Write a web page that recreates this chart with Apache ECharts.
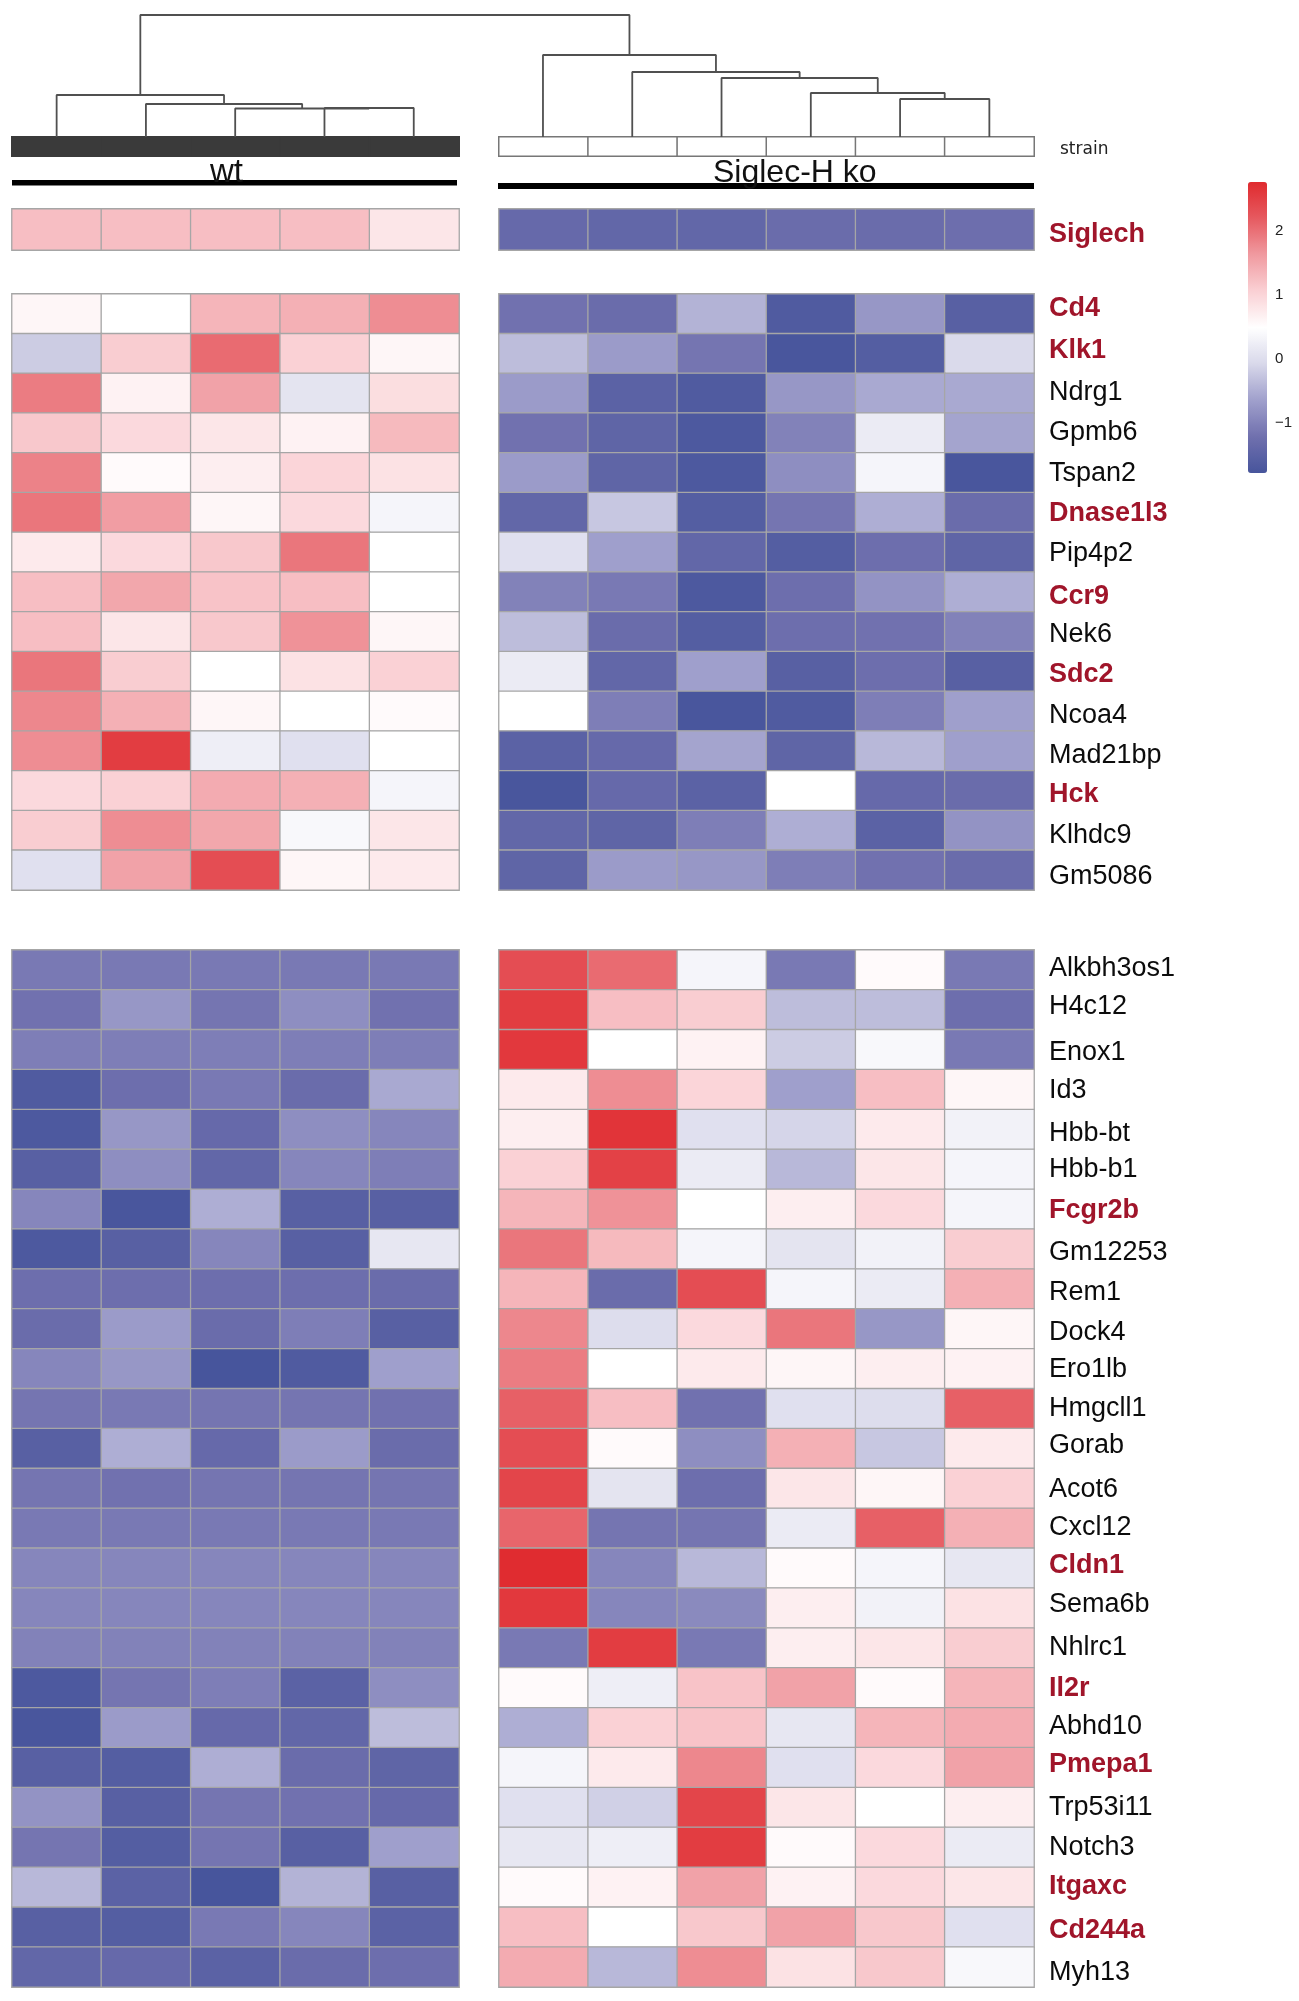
<!DOCTYPE html>
<html>
<head>
<meta charset="utf-8">
<script src="https://cdn.jsdelivr.net/npm/echarts@6/dist/echarts.min.js"></script>
<style>
  html,body{margin:0;padding:0;background:#fff;}
  #main{width:1299px;height:2001px;}
</style>
</head>
<body>
<div id="main"></div>
<script>
let wtCols = ['wt1','wt2','wt3','wt4','wt5'];
let koCols = ['ko1','ko2','ko3','ko4','ko5','ko6'];

let redGenes = ['Siglech','Cd4','Klk1','Dnase1l3','Ccr9','Sdc2','Hck','Fcgr2b','Cldn1','Il2r','Pmepa1','Itgaxc','Cd244a'];

let genesA = ['Siglech'];
let wtA = [[1.25,1.25,1.25,1.25,0.8]];
let koA = [[-1.35,-1.4,-1.4,-1.3,-1.3,-1.25]];

let genesB = ['Cd4','Klk1','Ndrg1','Gpmb6','Tspan2','Dnase1l3','Pip4p2','Ccr9','Nek6','Sdc2','Ncoa4','Mad21bp','Hck','Klhdc9','Gm5086'];
let wtB = [
  [0.6,0.5,1.35,1.4,1.75],
  [-0.2,1.1,2.05,1.05,0.6],
  [1.9,0.65,1.55,0.1,0.9],
  [1.15,0.95,0.8,0.65,1.3],
  [1.85,0.55,0.7,1.0,0.85],
  [1.95,1.6,0.6,0.95,0.35],
  [0.75,0.95,1.15,1.95,0.5],
  [1.25,1.5,1.2,1.25,0.5],
  [1.25,0.8,1.15,1.7,0.6],
  [1.95,1.1,0.5,0.85,1.05],
  [1.8,1.4,0.6,0.5,0.55],
  [1.75,2.55,0.25,0.05,0.5],
  [0.95,1.05,1.45,1.4,0.35],
  [1.1,1.75,1.5,0.4,0.8],
  [0.05,1.55,2.35,0.6,0.75]
];
let koB = [
  [-1.2,-1.3,-0.45,-1.65,-0.75,-1.55],
  [-0.35,-0.7,-1.15,-1.75,-1.6,-0.05],
  [-0.7,-1.5,-1.65,-0.75,-0.55,-0.55],
  [-1.2,-1.45,-1.7,-1.0,0.2,-0.6],
  [-0.7,-1.45,-1.7,-0.85,0.35,-1.75],
  [-1.4,-0.25,-1.6,-1.15,-0.5,-1.3],
  [0.05,-0.65,-1.4,-1.6,-1.25,-1.45],
  [-1.0,-1.1,-1.7,-1.25,-0.8,-0.5],
  [-0.35,-1.3,-1.6,-1.25,-1.2,-1.0],
  [0.2,-1.4,-0.65,-1.55,-1.25,-1.55],
  [0.5,-1.05,-1.75,-1.65,-1.05,-0.65],
  [-1.5,-1.35,-0.6,-1.45,-0.4,-0.65],
  [-1.75,-1.35,-1.5,0.5,-1.35,-1.3],
  [-1.4,-1.45,-1.05,-0.5,-1.5,-0.8],
  [-1.45,-0.7,-0.75,-1.05,-1.2,-1.3]
];

let genesC = ['Alkbh3os1','H4c12','Enox1','Id3','Hbb-bt','Hbb-b1','Fcgr2b','Gm12253','Rem1','Dock4','Ero1lb','Hmgcll1','Gorab','Acot6','Cxcl12','Cldn1','Sema6b','Nhlrc1','Il2r','Abhd10','Pmepa1','Trp53i11','Notch3','Itgaxc','Cd244a','Myh13'];
let wtC = [
  [-1.1,-1.1,-1.1,-1.1,-1.1],
  [-1.2,-0.75,-1.15,-0.85,-1.2],
  [-1.05,-1.05,-1.05,-1.05,-1.05],
  [-1.65,-1.25,-1.1,-1.3,-0.55],
  [-1.7,-0.75,-1.35,-0.85,-0.95],
  [-1.55,-0.85,-1.4,-0.95,-1.05],
  [-0.95,-1.75,-0.5,-1.55,-1.55],
  [-1.7,-1.55,-0.95,-1.55,0.15],
  [-1.25,-1.25,-1.25,-1.25,-1.3],
  [-1.3,-0.7,-1.3,-1.05,-1.55],
  [-0.95,-0.75,-1.8,-1.65,-0.65],
  [-1.15,-1.1,-1.15,-1.15,-1.2],
  [-1.55,-0.5,-1.35,-0.7,-1.3],
  [-1.15,-1.2,-1.15,-1.15,-1.15],
  [-1.1,-1.1,-1.1,-1.1,-1.1],
  [-0.95,-0.95,-0.95,-0.95,-0.95],
  [-0.95,-0.95,-0.95,-0.95,-0.95],
  [-1,-1,-1,-1,-1],
  [-1.7,-1.15,-1.05,-1.5,-0.85],
  [-1.75,-0.7,-1.35,-1.4,-0.35],
  [-1.55,-1.6,-0.5,-1.3,-1.45],
  [-0.8,-1.55,-1.15,-1.2,-1.35],
  [-1.15,-1.6,-1.15,-1.55,-0.65],
  [-0.4,-1.5,-1.8,-0.45,-1.55],
  [-1.55,-1.6,-1.1,-0.95,-1.5],
  [-1.4,-1.35,-1.5,-1.3,-1.25]
];
let koC = [
  [2.35,2.05,0.35,-1.1,0.55,-1.1],
  [2.55,1.25,1.1,-0.35,-0.35,-1.25],
  [2.6,0.5,0.65,-0.2,0.4,-1.1],
  [0.75,1.75,1.0,-0.65,1.25,0.6],
  [0.7,2.65,0.05,-0.1,0.75,0.3],
  [1.05,2.5,0.2,-0.4,0.8,0.35],
  [1.35,1.7,0.5,0.7,0.95,0.35],
  [1.95,1.3,0.35,0.1,0.3,1.1],
  [1.35,-1.3,2.35,0.35,0.2,1.4],
  [1.8,0,0.95,1.95,-0.75,0.6],
  [1.9,0.5,0.75,0.6,0.7,0.65],
  [2.15,1.25,-1.2,0.05,0,2.15],
  [2.35,0.55,-0.85,1.4,-0.25,0.75],
  [2.45,0.1,-1.25,0.8,0.6,1.05],
  [2.1,-1.15,-1.15,0.2,2.15,1.4],
  [2.75,-0.95,-0.4,0.55,0.35,0.15],
  [2.6,-0.95,-0.9,0.7,0.3,0.85],
  [-1.1,2.55,-1.1,0.7,0.8,1.1],
  [0.55,0.25,1.2,1.55,0.55,1.35],
  [-0.5,1.05,1.2,0.15,1.35,1.45],
  [0.35,0.75,1.8,0.05,0.95,1.55],
  [0.05,-0.15,2.45,0.8,0.5,0.7],
  [0.15,0.25,2.55,0.55,0.95,0.2],
  [0.55,0.65,1.55,0.65,0.95,0.8],
  [1.25,0.5,1.15,1.55,1.15,0.05],
  [1.45,-0.4,1.75,0.85,1.15,0.4]
];

let scaleMin = -1.78, scaleMax = 2.77;
let scaleColors = ['#47559c','#7070ae','#a0a0cc','#d8d8ea','#ffffff','#fad0d4','#f09aa0','#e65a60','#e02a2e'];
let legendTicks = [-1,0,1,2];

// dendrogram: sample order wt1..wt5, ko1..ko6. each merge = [left, right, height]
// left/right < 11 is a sample, otherwise merge number (11 = merges[0])
let merges = [
  [3,4,29],      // 11
  [2,11,28.5],   // 12
  [1,12,33],     // 13
  [0,13,42],     // 14
  [9,10,38],     // 15
  [8,15,44],     // 16
  [7,16,59],     // 17
  [6,17,65],     // 18
  [5,18,82],     // 19
  [14,19,122]
];

// the gene names in the picture were pasted by hand, they sit a few px off their rows
let labelNudge = {
  Siglech:5, Cd4:-5, Klk1:-3, Ndrg1:-1, Gpmb6:-1, Tspan2:1, Dnase1l3:1, Pip4p2:1, Ccr9:5, Nek6:3, Sdc2:3,
  Ncoa4:4, Mad21bp:5, Hck:4, Klhdc9:5, Gm5086:6,
  Alkbh3os1:-1, H4c12:-3, Enox1:3, Id3:1, 'Hbb-bt':4, Fcgr2b:1, Gm12253:3, Rem1:4, Dock4:4, Ero1lb:1,
  Gorab:-3, Acot6:1, Cxcl12:-1, Cldn1:-3, Sema6b:-4, Il2r:1, Abhd10:-1, Pmepa1:-3, Itgaxc:-1, Cd244a:3, Myh13:5
};

// one rich style per colour and nudge, padding on one side moves the text by half of it
let labelRich = {};
for(let d = -6; d <= 6; d++){
  let pad = d > 0 ? [2 * d,0,0,0] : [0,0,-2 * d,0];
  let k = String(d + 6);
  labelRich['r' + k] = {color:'#a0152a', fontSize:27, fontWeight:'bold', fontFamily:'Liberation Sans', padding:pad};
  labelRich['b' + k] = {color:'#0c0c0c', fontSize:27, fontFamily:'Liberation Sans', padding:pad};
}

// layout
let wtLeft = 12, wtW = 447, koLeft = 499, koW = 535;
let gapCols = 5 * (koLeft - wtLeft) / wtW - 5;

let grids = [], xAxes = [], yAxes = [], series = [], heatIdx = [];

function addPanel(left, width, top, height, cols, rows, values, labelled){
  let g = grids.length;
  grids.push({left:left, top:top, width:width, height:height});
  xAxes.push({type:'category', gridIndex:g, data:cols, show:false});
  yAxes.push({
    type:'category', gridIndex:g, data:rows, inverse:true, position:'right',
    show:labelled,
    axisLine:{show:false}, axisTick:{show:false}, splitLine:{show:false},
    axisLabel:{
      show:labelled, interval:0, margin:15,
      formatter:function(v){
        let key = (redGenes.indexOf(v) >= 0 ? 'r' : 'b') + ((labelNudge[v] || 0) + 6);
        return '{' + key + '|' + v + '}';
      },
      rich:labelRich
    }
  });
  let data = [];
  values.forEach((r,y)=>{
    r.forEach((v,x)=>{ data.push([x,y,v]); });
  });
  heatIdx.push(series.length);
  series.push({
    type:'heatmap', xAxisIndex:g, yAxisIndex:g, data:data, progressive:0,
    itemStyle:{borderColor:'#a6a6a6', borderWidth:1.3},
    emphasis:{disabled:true}
  });
}

addPanel(wtLeft, wtW, 209, 41, wtCols, genesA, wtA, false);
addPanel(koLeft, koW, 209, 41, koCols, genesA, koA, true);
addPanel(wtLeft, wtW, 294, 596, wtCols, genesB, wtB, false);
addPanel(koLeft, koW, 294, 596, koCols, genesB, koB, true);
addPanel(wtLeft, wtW, 950, 1037, wtCols, genesC, wtC, false);
addPanel(koLeft, koW, 950, 1037, koCols, genesC, koC, true);

// strain annotation strip
function addStrain(left, width, cols, color){
  let g = grids.length;
  grids.push({left:left, top:137, width:width, height:19});
  xAxes.push({type:'category', gridIndex:g, data:cols, show:false});
  yAxes.push({type:'category', gridIndex:g, data:['strain'], show:false});
  series.push({
    type:'heatmap', xAxisIndex:g, yAxisIndex:g,
    data:cols.map((c,i)=>[i,0,1]),
    itemStyle:{color:color, borderColor:color == '#fff' ? '#777' : '#3a3a3a', borderWidth:1.5},
    emphasis:{disabled:true}
  });
}
addStrain(wtLeft, wtW, wtCols, '#3a3a3a');
addStrain(koLeft, koW, koCols, '#fff');

// dendrogram
function sampleX(i){
  return i < 5 ? i + 0.5 : i + 0.5 + gapCols;
}
let nodes = [];
for(let i = 0; i < 11; i++) nodes.push({x:sampleX(i), h:0});
let treeLine = [];
merges.forEach(m=>{
  let a = nodes[m[0]], b = nodes[m[1]], h = m[2];
  treeLine.push([a.x,a.h],[a.x,h],[b.x,h],[b.x,b.h],['-','-']);
  nodes.push({x:(a.x + b.x) / 2, h:h});
});
let tg = grids.length;
grids.push({left:wtLeft, top:0, width:koLeft + koW - wtLeft, height:137});
xAxes.push({type:'value', gridIndex:tg, min:0, max:11 + gapCols, show:false});
yAxes.push({type:'value', gridIndex:tg, min:0, max:137, show:false});
series.push({
  type:'line', xAxisIndex:tg, yAxisIndex:tg, data:treeLine, showSymbol:false,
  connectNulls:false, silent:true,
  lineStyle:{color:'#505050', width:1.8}
});

// colour key tick labels
let lg = grids.length;
grids.push({left:1248, top:182, width:19, height:291});
xAxes.push({type:'value', gridIndex:lg, show:false});
yAxes.push({
  type:'value', gridIndex:lg, min:scaleMin, max:scaleMax, position:'right',
  axisLine:{show:false}, axisTick:{show:false}, splitLine:{show:false},
  axisLabel:{
    customValues:legendTicks, margin:8, color:'#222', fontSize:15,
    fontFamily:'Liberation Sans', hideOverlap:false,
    showMinLabel:true, showMaxLabel:true,
    formatter:function(v){ return v < 0 ? '\u2212' + Math.abs(v) : String(v); }
  }
});

let chart = echarts.init(document.getElementById('main'));
chart.setOption({
  animation:false,
  backgroundColor:'#fff',
  grid:grids,
  xAxis:xAxes,
  yAxis:yAxes,
  visualMap:{
    type:'continuous', seriesIndex:heatIdx, min:scaleMin, max:scaleMax,
    calculable:false, hoverLink:false, realtime:false,
    left:1248, top:182, itemWidth:19, itemHeight:291, padding:0,
    text:null, showLabel:false,
    inRange:{color:scaleColors}
  },
  series:series,
  graphic:[
    {type:'rect', left:12, top:180, shape:{width:445, height:5.5}, style:{fill:'#000'}},
    {type:'rect', left:498, top:183, shape:{width:536, height:6}, style:{fill:'#000'}},
    {type:'text', left:210, top:156, style:{text:'wt', fill:'#111', font:'33px "Liberation Sans"'}},
    {type:'text', left:713, top:157, style:{text:'Siglec-H ko', fill:'#111', font:'32px "Liberation Sans"'}},
    {type:'text', left:1060, top:141, style:{text:'strain', fill:'#222', font:'17px "DejaVu Sans"'}}
  ]
});
</script>
</body>
</html>
